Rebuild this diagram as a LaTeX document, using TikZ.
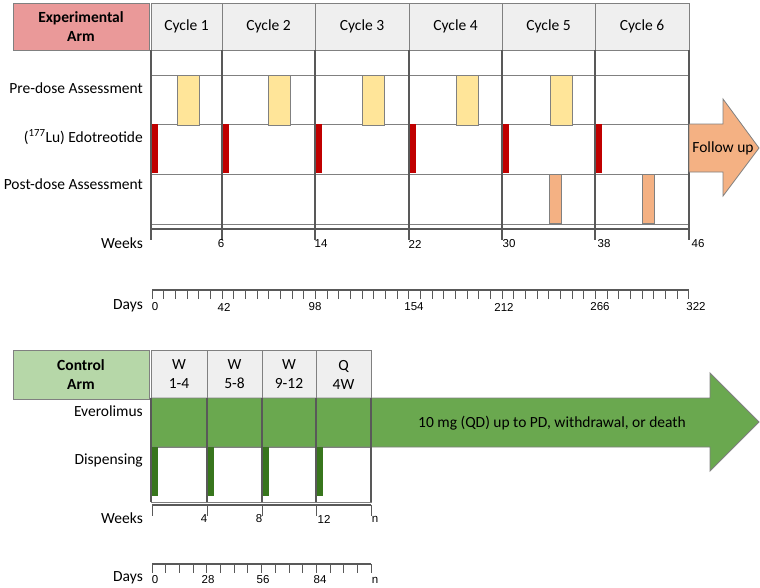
\documentclass[tikz,border=0pt]{standalone}
\usepackage{fontspec}
\setmainfont{Carlito}
\newfontfamily\numfont{Liberation Sans}

\definecolor{armred}{RGB}{234,153,153}
\definecolor{armgreen}{RGB}{182,215,168}
\definecolor{hdrgray}{RGB}{239,239,239}
\definecolor{boxgray}{RGB}{128,128,128}
\definecolor{linegray}{RGB}{89,89,89}
\definecolor{preyellow}{RGB}{255,229,153}
\definecolor{dosered}{RGB}{192,0,0}
\definecolor{postorange}{RGB}{244,177,131}
\definecolor{everogreen}{RGB}{106,168,79}
\definecolor{dispgreen}{RGB}{56,118,29}

\begin{document}
\begin{tikzpicture}[x=1pt,y=-1pt,font=\fontsize{15.5}{18}\selectfont,
	armbox/.style={draw=boxgray, line width=0.9pt, minimum width=136pt, align=center, inner sep=0pt, font=\bfseries\fontsize{15.5}{19}\selectfont},
	hdrbox/.style={draw=boxgray, fill=hdrgray, line width=0.9pt},
	rowlabel/.style={anchor=east, inner sep=0pt},
	numlabel/.style={inner sep=0pt, font=\numfont\fontsize{11.5}{13}\selectfont}]
	\useasboundingbox (0,0) rectangle (760,587);
	
	% experimental arm
	\node[armbox, fill=armred, minimum height=47pt] (exparm) at (81,26.5) {Experimental\\Arm};
	
	\foreach \n/\a/\b in {1/151/222,2/222/315,3/315/409,4/409/502,5/502/595,6/595/689}
	{
	\draw[hdrbox] (\a,3) rectangle (\b,50);
	\node (cycle\n) at ({(\a+\b)/2},26.5) {Cycle \n};
	}
	
	\draw[draw=boxgray, fill=white, line width=0.9pt] (151,50) rectangle (689,229);
	\foreach \y in {75,124,174,224}
	{
	\draw[boxgray, line width=0.9pt] (151,\y) -- (689,\y);
	}
	\draw[linegray, line width=1.3pt] (151,229) -- (689,229);
	
	\foreach \x in {177,268,362,456,550}
	{
	\draw[draw=boxgray, fill=preyellow, line width=0.8pt] (\x,75) rectangle ++(22,50);
	}
	\foreach \x in {151,222,315,409,502,595}
	{
	\fill[dosered] (\x+1,124) rectangle ++(6,49);
	}
	\foreach \x in {549,642}
	{
	\draw[draw=boxgray, fill=postorange, line width=0.6pt] (\x,174) rectangle ++(12,49);
	}
	\foreach \x in {151,222,315,409,502,595,689}
	{
	\draw[linegray, line width=1.3pt] (\x,50) -- (\x,240);
	}
	
	\draw[draw=boxgray, fill=postorange, line width=0.8pt] (689,124) -- (723,124) -- (723,99) -- (759,148) -- (723,196) -- (723,172) -- (689,172) -- cycle;
	\node (follow) at (723,148) {Follow up};
	
	\node[rowlabel] (predose) at (143,88) {Pre-dose Assessment};
	\node[rowlabel] (edotreotide) at (143,137) {(\textsuperscript{177}Lu) Edotreotide};
	\node[rowlabel] (postdose) at (143,184) {Post-dose Assessment};
	\node[rowlabel] (expweeks) at (143,243) {Weeks};
	\node[rowlabel] (expdays) at (143,306) {Days};
	
	\foreach \lbl/\x in {6/221,14/321,22/415,30/509,38/604,46/698}
	{
	\node[numlabel] (expwk\lbl) at (\x,244) {\lbl};
	}
	
	\draw[linegray, line width=1.3pt] (152,290) -- (689,290);
	\foreach \w in {0,...,46}
	{
	\draw[linegray, line width=0.7pt] (152+11.67*\w,290) -- ++(0,9);
	}
	\foreach \lbl/\x in {0/155,42/224,98/315,154/414,212/504,266/600,322/696}
	{
	\node[numlabel] (expday\lbl) at (\x,307) {\lbl};
	}
	
	% control arm
	\node[armbox, fill=armgreen, minimum height=49pt] (ctrlarm) at (81,374.5) {Control\\Arm};
	
	\foreach \t/\a/\b [count=\i] in {W\\1-4/151/207,W\\5-8/207/262,W\\9-12/262/316,Q\\4W/316/371}
	{
	\draw[hdrbox] (\a,350) rectangle (\b,399);
	\node[align=center, font=\fontsize{15.5}{19}\selectfont] (period\i) at ({(\a+\b)/2},374.5) {\t};
	}
	
	\draw[draw=boxgray, fill=everogreen, line width=0.9pt] (151,398) -- (710,398) -- (710,373) -- (759,422) -- (710,471) -- (710,447) -- (151,447) -- cycle;
	\node (everotext) at (552,423) {10 mg (QD) up to PD, withdrawal, or death};
	
	\draw[draw=boxgray, fill=white, line width=0.9pt] (151,447) rectangle (371,502);
	\foreach \x in {151,207,262,316}
	{
	\fill[dispgreen] (\x+1,447) rectangle ++(6,49);
	}
	\foreach \x in {151,207,262,316,371}
	{
	\draw[linegray, line width=1.3pt] (\x,398) -- (\x,502);
	}
	
	\node[rowlabel] (everolimus) at (143,411) {Everolimus};
	\node[rowlabel] (dispensing) at (143,460) {Dispensing};
	\node[rowlabel] (ctrlweeks) at (143,518) {Weeks};
	\node[rowlabel] (ctrldays) at (143,578) {Days};
	
	\draw[linegray, line width=1.3pt] (152,505) -- (371,505);
	\foreach \x in {152,207,262,316,371}
	{
	\draw[linegray, line width=0.7pt] (\x,505) -- ++(0,11);
	}
	\foreach \lbl/\x in {4/204,8/259,12/324,n/375}
	{
	\node[numlabel] (ctrlwk\lbl) at (\x,519) {\lbl};
	}
	
	\draw[linegray, line width=1.3pt] (152,564) -- (371,564);
	\foreach \w in {0,...,16}
	{
	\draw[linegray, line width=0.7pt] (152+13.69*\w,564) -- ++(0,9);
	}
	\foreach \lbl/\x in {0/155,28/208,56/263,84/320,n/375}
	{
	\node[numlabel] (ctrlday\lbl) at (\x,580) {\lbl};
	}
\end{tikzpicture}
\end{document}
